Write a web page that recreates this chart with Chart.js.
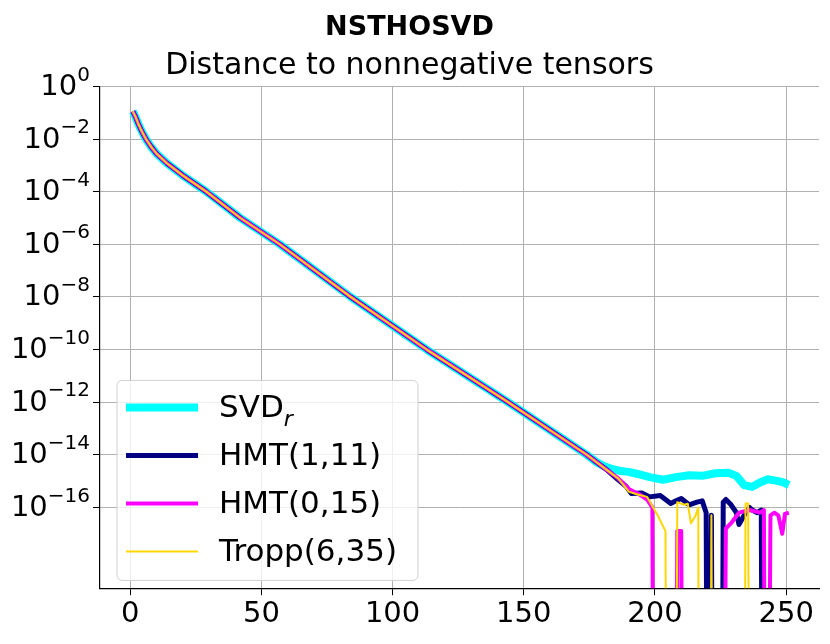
<!DOCTYPE html>
<html><head><meta charset="utf-8">
<script src="https://cdn.jsdelivr.net/npm/chart.js@4"></script>
<style>html,body{margin:0;padding:0;background:#fff}#wrap{width:830px;height:644px}</style>
</head><body><div id="wrap"><canvas id="c"></canvas></div>
<script>
// shared early part: iteration, log10(distance)
const mainX   = [1, 2, 3, 4, 5, 6, 8, 10, 14, 20, 29, 42, 57, 84, 113, 144, 174, 178];
const mainLog = [-0.95, -1.15, -1.4, -1.62, -1.82, -2.0, -2.3, -2.55, -2.92, -3.38, -4.0, -5.0, -6.0, -8.0, -10.0, -12.0, -14.0, -14.3];
// tails (null log = exact zero)
const svdX   = [181, 184, 187, 190, 193, 198, 203, 208, 213, 218, 223, 228, 231, 234, 237, 240, 243, 246, 249, 251];
const svdLog = [-14.45, -14.55, -14.62, -14.65, -14.72, -14.85, -14.95, -14.85, -14.78, -14.8, -14.7, -14.68, -14.8, -15.15, -15.22, -15.05, -14.93, -14.98, -15.05, -15.15];
const hmt1X   = [182, 186, 189, 191, 195, 198, 202, 204, 206, 208, 210, 213, 216, 218, 219.5, 220.5, 221.5, 222.5, 225, 226, 227, 229, 231, 232, 234, 236, 237, 239, 240.5, 241.5];
const hmt1Log = [-14.6, -14.95, -15.2, -15.47, -15.45, -15.6, -15.55, -15.7, -15.85, -15.75, -15.66, -15.9, -15.8, -15.75, -16.2, null, -16.3, null, null, -15.8, -15.7, -15.9, -16.2, -16.65, -16.3, -16.0, -16.1, -16.2, -16.1, null];
const hmt0X   = [182, 186, 190, 194, 197, 199, 200, 207.5, 208.5, 210, 211, 225.5, 227, 229, 230.5, 232, 236, 240, 241.5, 242.5, 244, 245.5, 247, 248.5, 249.5, 251];
const hmt0Log = [-14.6, -14.9, -15.3, -15.5, -15.7, -16.0, null, null, -16.9, -16.9, null, null, -16.8, -16.6, -16.4, -16.2, -16.1, -16.2, -16.1, null, -16.3, -16.2, -16.3, -17.0, -16.25, -16.2];
const troppX   = [182, 186, 190, 193, 197, 201, 204, 204.8, 207.5, 208.5, 211, 212.5, 213.7, 215.5, 216.5, 217, 220.5, 221.5, 222.5, 233.5, 234.5, 235.5, 236.5];
const troppLog = [-14.6, -14.9, -15.4, -15.5, -15.6, -16.3, -16.9, null, null, -15.8, -15.9, -15.86, -16.6, -16.3, -16.0, null, null, -16.3, null, null, -15.85, -15.85, null];
const yTicks = [0, -2, -4, -6, -8, -10, -12, -14, -16];
const xTicks = [0, 50, 100, 150, 200, 250];
const names = ['SVD$r', 'HMT(1,11)', 'HMT(0,15)', 'Tropp(6,35)'];

// exact zeros are placed far below the visible range so the line drops off the axis
function pts(xs, ls) { return xs.map((x, i) => ({x: x, y: ls[i] === null ? 1e-40 : Math.pow(10, ls[i])})); }
const head = pts(mainX, mainLog);

const yLabelPlugin = {
  id: 'yLabels',
  afterDraw(chart) {
    const ctx = chart.ctx, s = chart.scales.y;
    ctx.save(); ctx.fillStyle = '#000'; ctx.textBaseline = 'middle';
    yTicks.forEach(e => {
      const y = s.getPixelForValue(Math.pow(10, e));
      const ex = e === 0 ? '0' : '\u2212' + (-e);
      ctx.font = '20px "DejaVu Sans"';
      const we = ctx.measureText(ex).width;
      const xr = s.right - 10;
      ctx.textAlign = 'right';
      ctx.fillText(ex, xr, y - 11);
      ctx.font = '29px "DejaVu Sans"';
      ctx.fillText('10', xr - we, y + 1);
    });
    ctx.restore();
  }
};

const legendPlugin = {
  id: 'inLegend',
  afterDatasetsDraw(chart) {
    const ctx = chart.ctx, ca = chart.chartArea;
    const x0 = ca.left + 17, y0 = ca.top + 294, w = 301, h = 200;
    ctx.save();
    ctx.fillStyle = 'rgba(255,255,255,0.8)';
    ctx.strokeStyle = '#d0d0d0'; ctx.lineWidth = 1;
    ctx.beginPath(); ctx.roundRect(x0, y0, w, h, 5); ctx.fill(); ctx.stroke();
    chart.data.datasets.forEach((d, i) => {
      const y = y0 + 27 + i * 48;
      ctx.strokeStyle = d.borderColor; ctx.lineWidth = d.borderWidth;
      ctx.beginPath(); ctx.moveTo(x0 + 9, y); ctx.lineTo(x0 + 81, y); ctx.stroke();
      ctx.fillStyle = '#000'; ctx.textBaseline = 'middle'; ctx.textAlign = 'left';
      ctx.font = '31px "DejaVu Sans"';
      const lbl = d.label;
      if (lbl.indexOf('$') >= 0) {
        const [a, b] = lbl.split('$');
        ctx.fillText(a, x0 + 102, y + 2);
        const wa = ctx.measureText(a).width;
        ctx.font = 'oblique 22px "DejaVu Sans"';
        ctx.fillText(b, x0 + 102 + wa, y + 13);
      } else ctx.fillText(lbl, x0 + 102, y + 2);
    });
    ctx.restore();
  }
};

new Chart(document.getElementById('c'), {
  type: 'scatter',
  data: { datasets: [
    {label: names[0], data: head.concat(pts(svdX, svdLog)), borderColor: '#00ffff', borderWidth: 8, order: 4},
    {label: names[1], data: head.concat(pts(hmt1X, hmt1Log)), borderColor: '#000080', borderWidth: 5, order: 3},
    {label: names[2], data: head.concat(pts(hmt0X, hmt0Log)), borderColor: '#ff00ff', borderWidth: 4, order: 2},
    {label: names[3], data: head.concat(pts(troppX, troppLog)), borderColor: '#ffd700', borderWidth: 2, order: 1}
  ].map(d => Object.assign(d, {showLine: true, pointRadius: 0, tension: 0, borderJoinStyle: 'round', backgroundColor: d.borderColor})) },
  options: {
    responsive: true, maintainAspectRatio: false, animation: false,
    layout: {padding: {left: 0, right: 11, top: 0, bottom: 10}},
    plugins: {
      legend: {display: false}, tooltip: {enabled: false},
      title: {display: true, text: 'NSTHOSVD', color: '#000', font: {family: 'DejaVu Sans', size: 27, weight: 'bold'}, padding: {top: 12, bottom: 4}},
      subtitle: {display: true, text: 'Distance to nonnegative tensors', color: '#000', font: {family: 'DejaVu Sans', size: 30}, padding: {top: 0, bottom: 2}}
    },
    scales: {
      x: {type: 'linear', min: -11.5, max: 262.5,
          afterBuildTicks: s => { s.ticks = xTicks.map(v => ({value: v})); },
          grid: {color: '#b0b0b0', lineWidth: 1, tickColor: '#000', tickLength: 7},
          border: {color: '#000', width: 1.2},
          ticks: {color: '#000', font: {family: 'DejaVu Sans', size: 29}, maxRotation: 0, padding: 2}},
      y: {type: 'logarithmic', min: Math.pow(10, -19.07), max: 1,
          afterBuildTicks: s => { s.ticks = yTicks.map(v => ({value: Math.pow(10, v)})); },
          afterFit: s => { s.width = 100; },
          grid: {color: '#b0b0b0', lineWidth: 1, tickColor: '#000', tickLength: 7},
          border: {color: '#000', width: 1.2},
          ticks: {color: '#000', font: {family: 'DejaVu Sans', size: 24}, callback: () => ''}}
    }
  },
  plugins: [legendPlugin, yLabelPlugin]
});
</script></body></html>
